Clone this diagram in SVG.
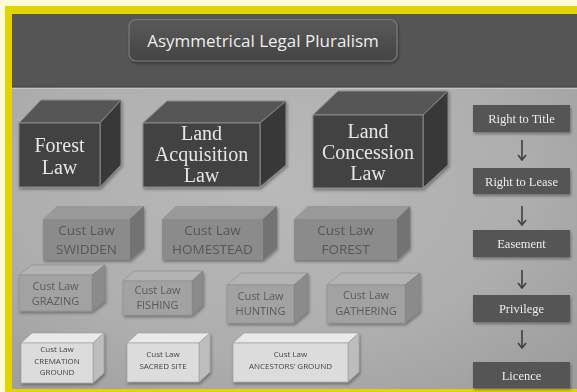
<svg xmlns="http://www.w3.org/2000/svg" width="577" height="392" viewBox="0 0 577 392">
  <defs>
    <radialGradient id="panelGrad" cx="0.45" cy="0.45" r="0.75">
      <stop offset="0" stop-color="#b9b9b9"/>
      <stop offset="0.6" stop-color="#aeaeae"/>
      <stop offset="1" stop-color="#9c9c9c"/>
    </radialGradient>
    <linearGradient id="btnGrad" x1="0" y1="0" x2="0" y2="1">
      <stop offset="0" stop-color="#5a5a5a"/>
      <stop offset="1" stop-color="#444444"/>
    </linearGradient>
    <filter id="shadow" x="-20%" y="-20%" width="140%" height="140%">
      <feDropShadow dx="1" dy="2" stdDeviation="1.6" flood-color="#000" flood-opacity="0.35"/>
    </filter>
    <marker id="arrowHead" viewBox="0 0 10 10" refX="9" refY="5" markerWidth="10" markerHeight="10" markerUnits="userSpaceOnUse" orient="auto">
      <path d="M4,1 L9,5 L4,9" fill="none" stroke="#3f3f3f" stroke-width="1.6"/>
    </marker>
  </defs>
  <style>
    .bigFront{fill:#424242;stroke:#8a8a8a;stroke-width:1}
    .bigTop{fill:#575757;stroke:#8a8a8a;stroke-width:1}
    .bigSide{fill:#373737;stroke:#8a8a8a;stroke-width:1}
    .bigTxt{font-family:"Liberation Serif","Times New Roman",serif;font-size:20px;fill:#e6e6e6;text-anchor:middle}
    .r2Front{fill:#8b8b8b}
    .r2Top{fill:#999999}
    .r2Side{fill:#737373}
    .r2Txt{font-family:"Open Sans","Liberation Sans",sans-serif;font-size:13.5px;fill:#575757;text-anchor:middle}
    .r3Front{fill:#a2a2a2;stroke:#8c8c8c;stroke-width:0.6}
    .r3Top{fill:#b3b3b3;stroke:#8c8c8c;stroke-width:0.6}
    .r3Side{fill:#8b8b8b;stroke:#808080;stroke-width:0.6}
    .r3Txt{font-family:"Open Sans","Liberation Sans",sans-serif;font-size:11px;fill:#5a5a5a;text-anchor:middle}
    .r4Front{fill:#dcdcdc;stroke:#9a9a9a;stroke-width:0.6}
    .r4Top{fill:#e9e9e9;stroke:#9a9a9a;stroke-width:0.6}
    .r4Side{fill:#bdbdbd;stroke:#9a9a9a;stroke-width:0.6}
    .r4Txt{font-family:"Open Sans","Liberation Sans",sans-serif;font-size:8px;fill:#444444;text-anchor:middle}
    .rBox{fill:#545454}
    .rTxt{font-family:"Liberation Serif","Times New Roman",serif;font-size:12.5px;fill:#ececec;text-anchor:middle}
    .arrow{stroke:#3f3f3f;stroke-width:1.6;fill:none;marker-end:url(#arrowHead)}
  </style>

  <!-- background and frame -->
  <rect x="0" y="0" width="577" height="392" fill="#fffbd8"/>
  <rect x="5" y="6" width="572" height="386" fill="#e1d400"/>
  <rect x="12" y="14" width="565" height="375" fill="url(#panelGrad)"/>
  <rect x="12" y="14" width="565" height="73" fill="#555555"/>
  <line x1="12" y1="87" x2="577" y2="87" stroke="#3e3e3e" stroke-width="1"/>
  <line x1="12" y1="88.5" x2="577" y2="88.5" stroke="#c4c4c4" stroke-width="1"/>

  <!-- title -->
  <g id="title">
    <rect x="129" y="19.5" width="268" height="41.5" rx="7" fill="url(#btnGrad)" stroke="#7a7a7a" stroke-width="1.2" filter="url(#shadow)"/>
    <text x="263" y="47" font-family="'Open Sans','DejaVu Sans',sans-serif" font-size="17" fill="#eeeeee" text-anchor="middle">Asymmetrical Legal Pluralism</text>
  </g>

  <!-- big cubes -->
  <g id="forest-law" filter="url(#shadow)">
    <polygon class="bigTop" points="19,123 41,100 121,100 100,123"/>
    <polygon class="bigSide" points="100,123 121,100 121,165 100,187"/>
    <rect class="bigFront" x="19" y="123" width="81" height="64"/>
    <text class="bigTxt" x="59.5" y="152">Forest</text>
    <text class="bigTxt" x="59.5" y="174">Law</text>
  </g>
  <g id="land-acquisition-law" filter="url(#shadow)">
    <polygon class="bigTop" points="143,123 167,101 286,101 260,123"/>
    <polygon class="bigSide" points="260,123 286,101 286,165 260,187"/>
    <rect class="bigFront" x="143" y="123" width="117" height="64"/>
    <text class="bigTxt" x="201.5" y="140">Land</text>
    <text class="bigTxt" x="201.5" y="161">Acquisition</text>
    <text class="bigTxt" x="201.5" y="182">Law</text>
  </g>
  <g id="land-concession-law" filter="url(#shadow)">
    <polygon class="bigTop" points="313,115 338,91 448,91 423,115"/>
    <polygon class="bigSide" points="423,115 448,91 448,165 423,188"/>
    <rect class="bigFront" x="313" y="115" width="110" height="73"/>
    <text class="bigTxt" x="368" y="138">Land</text>
    <text class="bigTxt" x="368" y="159">Concession</text>
    <text class="bigTxt" x="368" y="180">Law</text>
  </g>

  <!-- row 2 -->
  <g id="cust-swidden" filter="url(#shadow)">
    <polygon class="r2Top" points="43,219 57,206 144,206 130,219"/>
    <polygon class="r2Side" points="130,219 144,206 144,248 130,260"/>
    <rect class="r2Front" x="43" y="219" width="87" height="41"/>
    <text class="r2Txt" x="86.5" y="235">Cust Law</text>
    <text class="r2Txt" x="86.5" y="254">SWIDDEN</text>
  </g>
  <g id="cust-homestead" filter="url(#shadow)">
    <polygon class="r2Top" points="162,219 176,206 277,206 263,219"/>
    <polygon class="r2Side" points="263,219 277,206 277,248 263,260"/>
    <rect class="r2Front" x="162" y="219" width="101" height="41"/>
    <text class="r2Txt" x="212.5" y="235">Cust Law</text>
    <text class="r2Txt" x="212.5" y="254">HOMESTEAD</text>
  </g>
  <g id="cust-forest" filter="url(#shadow)">
    <polygon class="r2Top" points="294,219 308,206 410,206 397,219"/>
    <polygon class="r2Side" points="397,219 410,206 410,248 397,260"/>
    <rect class="r2Front" x="294" y="219" width="103" height="41"/>
    <text class="r2Txt" x="345.5" y="235">Cust Law</text>
    <text class="r2Txt" x="345.5" y="254">FOREST</text>
  </g>

  <!-- row 3 -->
  <g id="cust-grazing" filter="url(#shadow)">
    <polygon class="r3Top" points="19,275 32,265 105,265 92,275"/>
    <polygon class="r3Side" points="92,275 105,265 105,301 92,311"/>
    <rect class="r3Front" x="19" y="275" width="73" height="36"/>
    <text class="r3Txt" x="55.5" y="290">Cust Law</text>
    <text class="r3Txt" x="55.5" y="305">GRAZING</text>
  </g>
  <g id="cust-fishing" filter="url(#shadow)">
    <polygon class="r3Top" points="123,281 134,271 203,271 192,281"/>
    <polygon class="r3Side" points="192,281 203,271 203,305 192,315"/>
    <rect class="r3Front" x="123" y="281" width="69" height="34"/>
    <text class="r3Txt" x="157.5" y="293.5">Cust Law</text>
    <text class="r3Txt" x="157.5" y="309">FISHING</text>
  </g>
  <g id="cust-hunting" filter="url(#shadow)">
    <polygon class="r3Top" points="227,285 241,273 308,273 294,285"/>
    <polygon class="r3Side" points="294,285 308,273 308,311 294,323"/>
    <rect class="r3Front" x="227" y="285" width="67" height="38"/>
    <text class="r3Txt" x="260.5" y="300">Cust Law</text>
    <text class="r3Txt" x="260.5" y="315">HUNTING</text>
  </g>
  <g id="cust-gathering" filter="url(#shadow)">
    <polygon class="r3Top" points="327,285 341,273 420,273 405,285"/>
    <polygon class="r3Side" points="405,285 420,273 420,311 405,323"/>
    <rect class="r3Front" x="327" y="285" width="78" height="38"/>
    <text class="r3Txt" x="366" y="299">Cust Law</text>
    <text class="r3Txt" x="366" y="315">GATHERING</text>
  </g>

  <!-- row 4 -->
  <g id="cust-cremation" filter="url(#shadow)">
    <polygon class="r4Top" points="21,343 32,333 104,333 93,343"/>
    <polygon class="r4Side" points="93,343 104,333 104,373 93,383"/>
    <rect class="r4Front" x="21" y="343" width="72" height="40"/>
    <text class="r4Txt" x="57" y="352">Cust Law</text>
    <text class="r4Txt" x="57" y="363.5">CREMATION</text>
    <text class="r4Txt" x="57" y="375">GROUND</text>
  </g>
  <g id="cust-sacred-site" filter="url(#shadow)">
    <polygon class="r4Top" points="127,343 138,333 210,333 199,343"/>
    <polygon class="r4Side" points="199,343 210,333 210,372 199,382"/>
    <rect class="r4Front" x="127" y="343" width="72" height="39"/>
    <text class="r4Txt" x="163" y="357">Cust Law</text>
    <text class="r4Txt" x="163" y="368.5">SACRED SITE</text>
  </g>
  <g id="cust-ancestors-ground" filter="url(#shadow)">
    <polygon class="r4Top" points="233,343 244,333 359,333 348,343"/>
    <polygon class="r4Side" points="348,343 359,333 359,372 348,382"/>
    <rect class="r4Front" x="233" y="343" width="115" height="39"/>
    <text class="r4Txt" x="290.5" y="357">Cust Law</text>
    <text class="r4Txt" x="290.5" y="368.5">ANCESTORS’ GROUND</text>
  </g>

  <!-- right column -->
  <g id="right-to-title" filter="url(#shadow)">
    <rect class="rBox" x="473" y="105" width="97" height="27"/>
    <text class="rTxt" x="521.5" y="123">Right to Title</text>
  </g>
  <g id="right-to-lease" filter="url(#shadow)">
    <rect class="rBox" x="473" y="168" width="97" height="26"/>
    <text class="rTxt" x="521.5" y="185.5">Right to Lease</text>
  </g>
  <g id="easement" filter="url(#shadow)">
    <rect class="rBox" x="473" y="230" width="97" height="27"/>
    <text class="rTxt" x="521.5" y="248">Easement</text>
  </g>
  <g id="privilege" filter="url(#shadow)">
    <rect class="rBox" x="473" y="295" width="97" height="27"/>
    <text class="rTxt" x="521.5" y="313">Privilege</text>
  </g>
  <g id="licence" filter="url(#shadow)">
    <rect class="rBox" x="473" y="362" width="97" height="26"/>
    <text class="rTxt" x="521.5" y="380">Licence</text>
  </g>

  <g id="connectors">
    <line class="arrow" x1="522" y1="140" x2="522" y2="160"/>
    <line class="arrow" x1="522" y1="206" x2="522" y2="225"/>
    <line class="arrow" x1="522" y1="270" x2="522" y2="288"/>
    <line class="arrow" x1="522" y1="330" x2="522" y2="348"/>
  </g>
</svg>
